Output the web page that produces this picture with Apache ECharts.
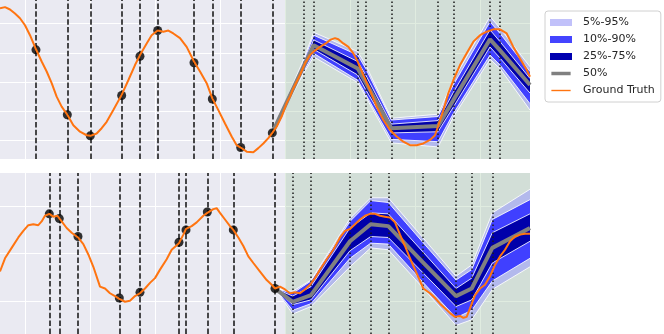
<!DOCTYPE html>
<html>
<head>
<meta charset="utf-8">
<script src="https://cdn.jsdelivr.net/npm/echarts@6/dist/echarts.min.js"></script>
<style>
html, body { margin: 0; padding: 0; background: #ffffff; }
#chart { width: 664px; height: 334px; }
</style>
</head>
<body>
<div id="chart"></div>
<script>
// axes
var xRange = [-7.69, 155.38];
var xTicks = [0, 20, 40, 60, 80, 100, 120, 140];
var forecastStart = 80;
var topYRange = [-1.316, 1.402];
var topYTicks = [-1, -0.5, 0, 0.5, 1];
var botYRange = [-0.851, 0.852];
var botYTicks = [-0.5, 0, 0.5];

// ---- top panel ----
var topObsT = [3.38, 13.02, 20.09, 29.75, 35.38, 40.83, 52.0, 57.63, 66.37, 76.09];
var topObsV = [0.55, -0.56, -0.92, -0.23, 0.44, 0.88, 0.33, -0.29, -1.12, -0.87];
var topFcT = [85.63, 88.83, 102.37, 104.83, 112.71, 127.08, 131.78, 143.08, 146.15];
var topBandT = [76.09, 85.63, 88.83, 102.37, 104.83, 112.71, 127.08, 131.78, 143.08, 146.15, 155.38];
var topQ95 = [-0.87, 0.38, 0.85, 0.52, 0.29, -0.62, -0.55, 0.03, 1.12, 0.92, 0.26];
var topQ90 = [-0.87, 0.34, 0.80, 0.46, 0.23, -0.65, -0.59, -0.05, 1.03, 0.83, 0.18];
var topQ75 = [-0.87, 0.30, 0.72, 0.35, 0.12, -0.72, -0.66, -0.18, 0.89, 0.69, 0.06];
var topQ50 = [-0.87, 0.26, 0.63, 0.23, -0.01, -0.79, -0.75, -0.31, 0.73, 0.54, -0.05];
var topQ25 = [-0.87, 0.22, 0.56, 0.12, -0.13, -0.87, -0.85, -0.43, 0.60, 0.41, -0.19];
var topQ10 = [-0.87, 0.17, 0.49, 0.03, -0.21, -0.98, -1.02, -0.54, 0.46, 0.29, -0.37];
var topQ05 = [-0.87, 0.14, 0.43, -0.01, -0.25, -1.04, -1.11, -0.60, 0.39, 0.23, -0.48];
var topTruth = [
  [-7.69, 1.26], [-6.15, 1.28], [-4.62, 1.24], [-3.08, 1.17], [-1.54, 1.09], [0, 0.97], [1.54, 0.80],
  [3.38, 0.56], [5.13, 0.35], [6.67, 0.18], [8.21, -0.02], [9.74, -0.25], [11.28, -0.42], [13.03, -0.56],
  [14.87, -0.74], [16.92, -0.85], [18.97, -0.91], [20.10, -0.92], [22.05, -0.88], [23.59, -0.79],
  [25.13, -0.68], [27.18, -0.48], [29.74, -0.22], [31.79, 0.03], [33.85, 0.29], [35.38, 0.46],
  [37.44, 0.66], [38.97, 0.80], [40.82, 0.88], [42.56, 0.86], [44.10, 0.88], [45.64, 0.83],
  [47.69, 0.75], [49.74, 0.60], [52.0, 0.35], [53.85, 0.18], [55.90, -0.02], [57.64, -0.28],
  [59.49, -0.48], [61.54, -0.71], [63.59, -0.93], [65.13, -1.08], [66.36, -1.12], [68.21, -1.19],
  [70.26, -1.20], [71.79, -1.13], [73.33, -1.05], [74.87, -0.96], [76.10, -0.87], [77.44, -0.76],
  [78.97, -0.59], [80.51, -0.36], [81.54, -0.25], [82.56, -0.11], [84.62, 0.12], [86.15, 0.32],
  [87.69, 0.46], [88.82, 0.52], [90.77, 0.60], [92.82, 0.67], [93.85, 0.72], [95.38, 0.75],
  [96.41, 0.73], [97.95, 0.66], [99.49, 0.60], [101.03, 0.49], [102.36, 0.35], [104.10, 0.12],
  [106.15, -0.14], [108.21, -0.42], [110.26, -0.65], [112.31, -0.82], [114.36, -0.93], [116.41, -1.02],
  [118.46, -1.08], [120.51, -1.08], [122.56, -1.05], [124.62, -0.99], [126.15, -0.91], [127.08, -0.76],
  [128.72, -0.48], [130.26, -0.19], [131.79, 0.03], [133.85, 0.29], [135.90, 0.49], [137.95, 0.69],
  [140.0, 0.80], [142.05, 0.86], [144.10, 0.90], [146.15, 0.90], [148.21, 0.83], [150.26, 0.60],
  [152.31, 0.40], [154.36, 0.21], [155.38, 0.09]
];

// ---- bottom panel ----
var botObsT = [7.48, 10.55, 16.31, 29.02, 35.38, 47.38, 49.54, 56.09, 64.09, 76.92];
var botObsV = [0.42, 0.37, 0.18, -0.47, -0.41, 0.12, 0.25, 0.44, 0.25, -0.37];
var botFcT = [82.37, 88.0, 100.0, 106.37, 111.78, 122.37, 132.62, 137.45, 143.78];
var botBandT = [76.92, 82.37, 88.0, 100.0, 106.37, 111.78, 122.37, 132.62, 137.45, 143.78, 155.38];
var botQ95 = [-0.37, -0.40, -0.28, 0.37, 0.59, 0.59, 0.17, -0.24, -0.12, 0.43, 0.68];
var botQ90 = [-0.37, -0.42, -0.29, 0.34, 0.56, 0.54, 0.12, -0.28, -0.17, 0.36, 0.57];
var botQ75 = [-0.37, -0.45, -0.35, 0.27, 0.43, 0.42, 0.02, -0.37, -0.26, 0.22, 0.42];
var botQ50 = [-0.37, -0.51, -0.44, 0.13, 0.31, 0.29, -0.09, -0.45, -0.37, 0.06, 0.27];
var botQ25 = [-0.37, -0.54, -0.49, 0.03, 0.18, 0.17, -0.20, -0.56, -0.49, -0.10, 0.13];
var botQ10 = [-0.37, -0.60, -0.53, -0.05, 0.11, 0.10, -0.30, -0.68, -0.60, -0.29, -0.05];
var botQ05 = [-0.37, -0.64, -0.56, -0.14, 0.06, 0.04, -0.36, -0.76, -0.70, -0.38, -0.14];
var botTruth = [
  [-7.69, -0.19], [-6.15, -0.05], [-4.10, 0.06], [-2.05, 0.17], [-0.51, 0.24], [1.03, 0.30], [2.56, 0.31],
  [4.10, 0.30], [5.13, 0.34], [6.15, 0.40], [7.49, 0.42], [8.72, 0.39], [9.95, 0.40], [11.28, 0.34],
  [12.82, 0.27], [14.36, 0.22], [16.31, 0.17], [17.95, 0.10], [19.49, -0.01], [21.03, -0.14],
  [23.08, -0.35], [24.62, -0.37], [26.15, -0.42], [27.69, -0.45], [29.03, -0.48], [30.77, -0.51],
  [32.31, -0.50], [33.85, -0.45], [35.38, -0.42], [36.92, -0.37], [38.46, -0.31], [40.0, -0.26],
  [41.54, -0.17], [43.59, -0.06], [45.13, 0.04], [47.38, 0.11], [48.72, 0.20], [49.54, 0.26],
  [51.28, 0.29], [52.82, 0.33], [54.87, 0.40], [56.10, 0.43], [57.95, 0.47], [58.97, 0.48],
  [60.0, 0.43], [61.54, 0.36], [63.08, 0.29], [64.10, 0.25], [65.64, 0.17], [67.18, 0.08],
  [68.72, -0.03], [70.26, -0.10], [72.31, -0.19], [74.36, -0.28], [75.90, -0.33], [76.92, -0.37],
  [78.46, -0.35], [80.0, -0.38], [81.54, -0.42], [83.08, -0.41], [84.62, -0.42], [86.15, -0.38],
  [87.69, -0.33], [89.23, -0.26], [90.77, -0.17], [92.82, -0.06], [94.87, 0.04], [96.92, 0.17],
  [98.46, 0.24], [100.0, 0.26], [101.54, 0.31], [103.08, 0.36], [104.62, 0.40], [106.15, 0.42],
  [107.69, 0.42], [109.23, 0.40], [110.77, 0.39], [112.31, 0.38], [113.85, 0.33], [115.38, 0.20],
  [116.92, 0.08], [118.46, -0.05], [120.51, -0.21], [122.56, -0.37], [124.62, -0.42], [126.15, -0.47],
  [127.69, -0.53], [129.23, -0.58], [130.77, -0.63], [132.31, -0.67], [133.85, -0.66], [134.87, -0.68],
  [135.90, -0.67], [136.92, -0.58], [138.46, -0.44], [140.0, -0.37], [141.54, -0.33], [143.08, -0.24],
  [144.62, -0.12], [146.15, -0.03], [147.69, 0.04], [149.23, 0.13], [150.77, 0.18], [152.31, 0.20],
  [153.85, 0.21], [155.38, 0.21]
];

var C_LIGHT = '#b3b9ec';
var C_MID = '#4040ff';
var C_DARK = '#0000aa';
var C_TRUTH = '#ff7410';

var panels = [
  {obsT: topObsT, obsV: topObsV, fcT: topFcT, bandT: topBandT, yTicks: topYTicks, truth: topTruth,
   q: [topQ05, topQ10, topQ25, topQ50, topQ75, topQ90, topQ95]},
  {obsT: botObsT, obsV: botObsV, fcT: botFcT, bandT: botBandT, yTicks: botYTicks, truth: botTruth,
   q: [botQ05, botQ10, botQ25, botQ50, botQ75, botQ90, botQ95]}
];

// one filled band between two quantile curves, drawn as a single polygon
function bandSeries(gi, name, T, lo, hi, color) {
  return {
    name: name, type: 'custom', xAxisIndex: gi, yAxisIndex: gi,
    silent: true, z: 2, clip: true,
    itemStyle: {color: color},
    encode: {x: 0, y: [1, 2]},
    data: T.map(function (t, i) { return [t, lo[i], hi[i]]; }),
    renderItem: function (params, api) {
      if (params.dataIndex !== 0) return null;
      var upper = [], lower = [];
      for (var i = 0; i < T.length; i++) {
        upper.push(api.coord([T[i], hi[i]]));
        lower.push(api.coord([T[i], lo[i]]));
      }
      return {
        type: 'polygon',
        shape: {points: upper.concat(lower.reverse())},
        style: {fill: color}
      };
    }
  };
}

function panelSeries(gi, p) {
  var out = [];
  var q = p.q;
  function pts(arr) {
    return p.bandT.map(function (t, i) { return [t, arr[i]]; });
  }
  out.push(bandSeries(gi, '5%-95%', p.bandT, q[0], q[6], C_LIGHT));
  out.push(bandSeries(gi, '10%-90%', p.bandT, q[1], q[5], C_MID));
  out.push(bandSeries(gi, '25%-75%', p.bandT, q[2], q[4], C_DARK));
  // white edges between the bands; the first one also carries the grid and the forecast shading
  var gridMarks = xTicks.map(function (v) { return {xAxis: v}; })
    .concat(p.yTicks.map(function (v) { return {yAxis: v}; }));
  [0, 1, 2, 4, 5, 6].forEach(function (k, j) {
    var s = {
      name: 'edge' + gi + '_' + k, type: 'line', xAxisIndex: gi, yAxisIndex: gi,
      data: pts(q[k]), symbol: 'none', silent: true,
      lineStyle: {color: '#ffffff', width: 1, opacity: 0.85}, z: 2.5
    };
    if (j === 0) {
      s.markLine = {
        silent: true, symbol: 'none', z: 1, animation: false,
        label: {show: false},
        lineStyle: {color: '#ffffff', width: 1, type: 'solid'},
        data: gridMarks
      };
      s.markArea = {
        silent: true, z: 1.5,
        itemStyle: {color: 'rgba(160,196,160,0.32)'},
        data: [[{xAxis: forecastStart}, {xAxis: xRange[1]}]]
      };
    }
    out.push(s);
  });
  // median
  out.push({
    name: '50%', type: 'line', xAxisIndex: gi, yAxisIndex: gi, data: pts(q[3]),
    symbol: 'none', lineStyle: {color: '#808080', width: 4}, itemStyle: {color: '#808080'}, z: 4
  });
  // observations with dashed lines, forecast times with dotted lines
  var vlines = p.obsT.map(function (t) {
    return {xAxis: t, lineStyle: {color: '#111111', width: 1.5, type: [5.5, 2.4]}};
  }).concat(p.fcT.map(function (t) {
    return {xAxis: t, lineStyle: {color: '#1a1a1a', width: 1.5, type: [1.5, 2.5]}};
  }));
  out.push({
    name: 'obs' + gi, type: 'scatter', xAxisIndex: gi, yAxisIndex: gi,
    data: p.obsT.map(function (t, i) { return [t, p.obsV[i]]; }),
    symbolSize: 9, itemStyle: {color: '#000000'}, z: 5,
    markLine: {silent: true, symbol: 'none', z: 3, label: {show: false}, data: vlines}
  });
  out.push({
    name: 'Ground Truth', type: 'line', xAxisIndex: gi, yAxisIndex: gi, data: p.truth,
    symbol: 'none', lineStyle: {color: C_TRUTH, width: 2}, itemStyle: {color: C_TRUTH}, z: 6
  });
  return out;
}

var series = [];
panels.forEach(function (p, gi) { series = series.concat(panelSeries(gi, p)); });

var chart = echarts.init(document.getElementById('chart'));
var option = {
  animation: false,
  backgroundColor: '#ffffff',
  grid: [
    {left: 0, top: 0, width: 530, height: 159, show: true, backgroundColor: '#eaeaf2', borderWidth: 0},
    {left: 0, top: 173, width: 530, height: 161, show: true, backgroundColor: '#eaeaf2', borderWidth: 0}
  ],
  xAxis: [
    {gridIndex: 0, type: 'value', min: xRange[0], max: xRange[1], show: false},
    {gridIndex: 1, type: 'value', min: xRange[0], max: xRange[1], show: false}
  ],
  yAxis: [
    {gridIndex: 0, type: 'value', min: topYRange[0], max: topYRange[1], show: false},
    {gridIndex: 1, type: 'value', min: botYRange[0], max: botYRange[1], show: false}
  ],
  legend: {
    orient: 'vertical', left: 545, top: 11,
    itemWidth: 22, itemHeight: 7, itemGap: 6,
    padding: [6, 6, 6, 5],
    backgroundColor: '#ffffff', borderColor: '#d0d0d0', borderWidth: 1, borderRadius: 3,
    selectedMode: false,
    itemStyle: {borderWidth: 0},
    textStyle: {fontFamily: 'DejaVu Sans', fontSize: 11, color: '#262626', padding: [0, 0, 0, 6]},
    data: [
      {name: '5%-95%', icon: 'rect', itemStyle: {color: '#c1c1fa'}},
      {name: '10%-90%', icon: 'rect', itemStyle: {color: '#4444ff'}},
      {name: '25%-75%', icon: 'rect', itemStyle: {color: '#0000b0'}},
      {name: '50%', icon: 'path://M0,0M22,8M0,2H22V6H0Z', itemStyle: {color: '#808080'}},
      {name: 'Ground Truth', icon: 'path://M0,0M22,8M0,3.2H22V4.8H0Z', itemStyle: {color: C_TRUTH}}
    ]
  },
  series: series
};
chart.setOption(option);
</script>
</body>
</html>
